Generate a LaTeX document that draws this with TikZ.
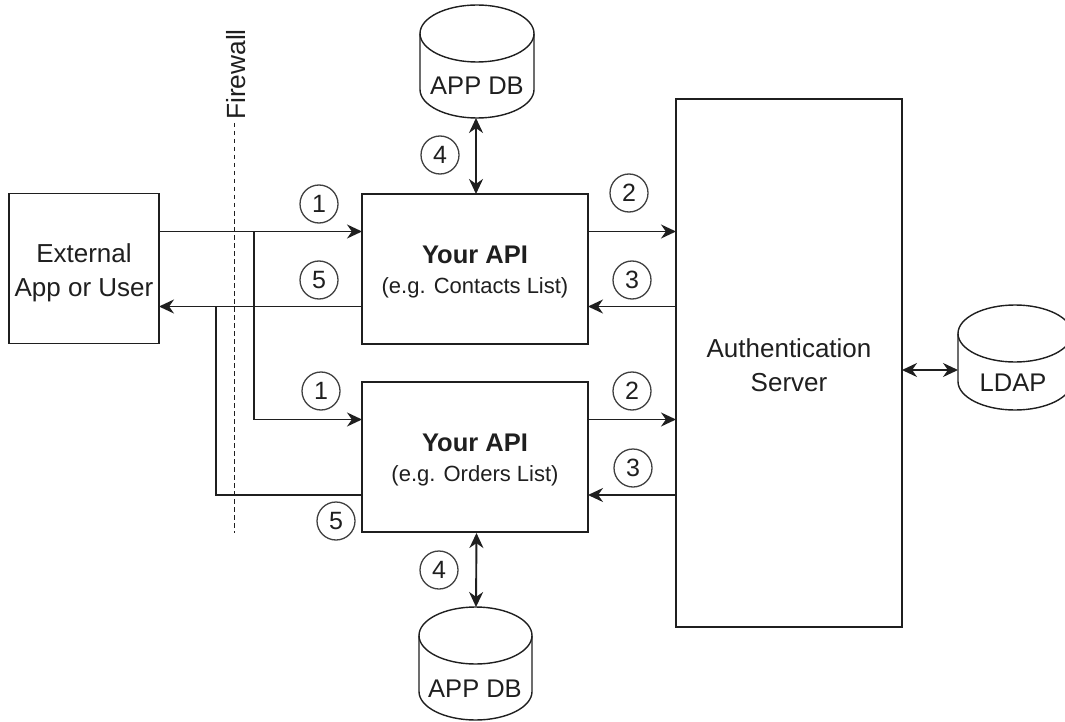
\documentclass[tikz,border=0pt]{standalone}
\usepackage{fontspec}
\setmainfont{Liberation Sans}
\usetikzlibrary{arrows.meta,calc}
\definecolor{ink}{gray}{0.12}
\tikzset{
 box/.style={draw=ink,line width=1.6pt,fill=white,anchor=north west,inner sep=0pt,outer sep=0pt},
 num/.style={draw=ink!85,circle,line width=1.3pt,minimum size=38pt,inner sep=0pt,font=\fontsize{25}{28}\selectfont},
 lab/.style={font=\fontsize{26}{34}\selectfont,align=center},
 apilab/.style={font=\fontsize{25.5}{30}\selectfont,align=center},
 dbtext/.style={font=\fontsize{25.5}{30}\selectfont},
 con/.style={line width=1.9pt,draw=ink,-{Stealth[length=15pt,width=14pt]}},
 dcon/.style={line width=1.9pt,draw=ink,{Stealth[length=15pt,width=14pt]}-{Stealth[length=15pt,width=14pt]}},
 plain/.style={line width=1.9pt,draw=ink},
 dbbody/.style={draw=ink,line width=1.4pt,fill=white},
}
% #1 name, #2 left, #3 right, #4 top, #5 bottom, #6 ry
\newcommand{\dbshape}[6]{%
 \path[dbbody]
  (#2,#4+#6) .. controls (#2,#4+#6-0.55*#6) and (#2/2+#3/2-0.55*#3/2+0.55*#2/2,#4) .. (#2/2+#3/2,#4)
  .. controls (#2/2+#3/2+0.55*#3/2-0.55*#2/2,#4) and (#3,#4+#6-0.55*#6) .. (#3,#4+#6)
  -- (#3,#5-#6)
  .. controls (#3,#5-#6+0.55*#6) and (#2/2+#3/2+0.55*#3/2-0.55*#2/2,#5) .. (#2/2+#3/2,#5)
  .. controls (#2/2+#3/2-0.55*#3/2+0.55*#2/2,#5) and (#2,#5-#6+0.55*#6) .. (#2,#5-#6)
  -- cycle;
 \draw[dbbody,fill=none]
  (#2,#4+#6) .. controls (#2,#4+#6+0.55*#6) and (#2/2+#3/2-0.55*#3/2+0.55*#2/2,#4+2*#6) .. (#2/2+#3/2,#4+2*#6)
  .. controls (#2/2+#3/2+0.55*#3/2-0.55*#2/2,#4+2*#6) and (#3,#4+#6+0.55*#6) .. (#3,#4+#6);
 \node[inner sep=0pt,outer sep=0pt,minimum width=#3 pt-#2 pt,minimum height=#5 pt-#4 pt] (#1) at (#2/2+#3/2,#4/2+#5/2) {};
}
\begin{document}
\begin{tikzpicture}[x=1pt,y=-1pt,every node/.append style={text=ink}]
\useasboundingbox (0,0) rectangle (1065,722);
\begin{scope}
\clip (0,0) rectangle (1065,722);
% firewall
\coordinate (f1) at (234.5,123);
\coordinate (f2) at (234.5,533);
\draw[line width=1.4pt,draw=ink,dash pattern=on 4.5pt off 3.5pt] (f1) -- (f2);
% boxes
\node[box,minimum width=150pt,minimum height=150pt] (ext) at (9,193.5) {};
\node[lab] at (84,272.5) {External\\App or User};
\node[box,minimum width=226pt,minimum height=150pt] (api1) at (362,194) {};
\node[apilab] at (475,272.5) {\textbf{Your API}\\{\fontsize{22}{30}\selectfont (e.g. Contacts List)}};
\node[box,minimum width=226pt,minimum height=150pt] (api2) at (362,382) {};
\node[apilab] at (475,460.5) {\textbf{Your API}\\{\fontsize{22}{30}\selectfont (e.g. Orders List)}};
\node[box,minimum width=226pt,minimum height=528pt] (auth) at (676,99) {};
\node[lab] at (789,365.5) {Authentication\\Server};
% databases
\dbshape{db1}{420}{534}{5}{118}{28.5}
\node[dbtext] at (477,86) {APP DB};
\dbshape{db2}{419}{532}{607}{720}{28.5}
\node[dbtext] at (475,689) {APP DB};
\dbshape{ldap}{958}{1072}{305}{410}{28.5}
\node[dbtext] at (1013,383) {LDAP};
\node[rotate=90,inner sep=0pt,font=\fontsize{26.3}{30}\selectfont,anchor=west] (fw) at (236,120) {Firewall};
% connectors
\coordinate (j1) at (254,231.5);
\coordinate (j2) at (216,306.5);
\coordinate (a1) at (362,231.5);
\coordinate (a2) at (362,419.5);
\coordinate (r1) at (362,306.5);
\coordinate (r2) at (362,495);
\draw[con] (ext.east |- a1) -- (a1);
\draw[con] (j1) |- (a2);
\draw[con] (r1) -- (ext.east |- r1);
\draw[plain] (r2) -| (j2);
\draw[con] (api1.east |- a1) -- (auth.west |- a1);
\draw[con] (auth.west |- r1) -- (api1.east |- r1);
\draw[con] (api2.east |- a2) -- (auth.west |- a2);
\draw[con] (auth.west |- r2) -- (api2.east |- r2);
\draw[dcon] (db1.south -| api1.south) ++(1,0) -- (476,194);
\draw[dcon] (api2.south -| db2.north) ++(1,1) -- (476,607);
\draw[dcon] (auth.east |- 0,370) -- (ldap.west |- 0,370);
% numbers
\node[num] at (319,204) {1};
\node[num] at (319,280) {5};
\node[num] at (321,391) {1};
\node[num] at (336,521) {5};
\node[num] at (629,193) {2};
\node[num] at (632,280) {3};
\node[num] at (632,391) {2};
\node[num] at (633,468) {3};
\node[num] at (440,155) {4};
\node[num] at (439,570) {4};
\end{scope}
\end{tikzpicture}
\end{document}
